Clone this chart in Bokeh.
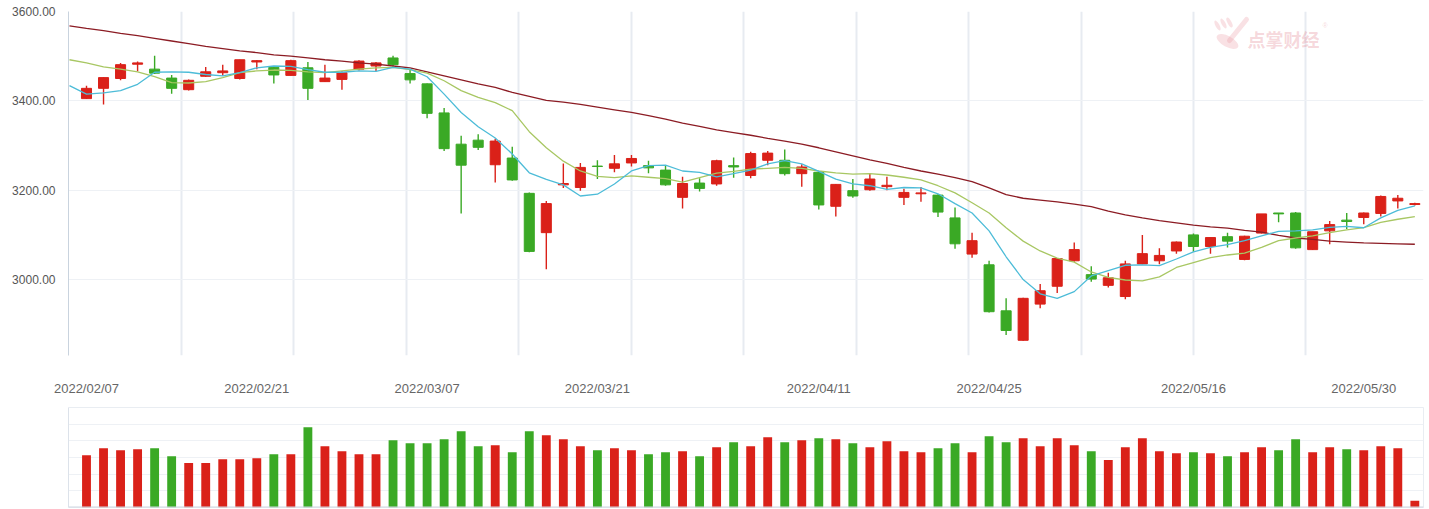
from bokeh.plotting import figure
from bokeh.layouts import column
from bokeh.models import Range1d, FixedTicker, NumeralTickFormatter, Span, ColumnDataSource
from bokeh.embed import file_html
from bokeh.resources import INLINE
from bokeh.core.properties import value

# ---------------- data ----------------
dates = [
    "2022/02/07", "2022/02/08", "2022/02/09", "2022/02/10", "2022/02/11",
    "2022/02/14", "2022/02/15", "2022/02/16", "2022/02/17", "2022/02/18",
    "2022/02/21", "2022/02/22", "2022/02/23", "2022/02/24", "2022/02/25",
    "2022/02/28", "2022/03/01", "2022/03/02", "2022/03/03", "2022/03/04",
    "2022/03/07", "2022/03/08", "2022/03/09", "2022/03/10", "2022/03/11",
    "2022/03/14", "2022/03/15", "2022/03/16", "2022/03/17", "2022/03/18",
    "2022/03/21", "2022/03/22", "2022/03/23", "2022/03/24", "2022/03/25",
    "2022/03/28", "2022/03/29", "2022/03/30", "2022/03/31", "2022/04/01",
    "2022/04/06", "2022/04/07", "2022/04/08", "2022/04/11", "2022/04/12",
    "2022/04/13", "2022/04/14", "2022/04/15", "2022/04/18", "2022/04/19",
    "2022/04/20", "2022/04/21", "2022/04/22", "2022/04/25", "2022/04/26",
    "2022/04/27", "2022/04/28", "2022/04/29", "2022/05/05", "2022/05/06",
    "2022/05/09", "2022/05/10", "2022/05/11", "2022/05/12", "2022/05/13",
    "2022/05/16", "2022/05/17", "2022/05/18", "2022/05/19", "2022/05/20",
    "2022/05/23", "2022/05/24", "2022/05/25", "2022/05/26", "2022/05/27",
    "2022/05/30", "2022/05/31", "2022/06/01", "2022/06/02",
]
open_ = [3405, 3428, 3450, 3482, 3471, 3451, 3425, 3455, 3463, 3450,
         3487, 3475, 3457, 3474, 3443, 3448, 3471, 3478, 3496, 3461,
         3438, 3373, 3303, 3312, 3257, 3272, 3193, 3105, 3212, 3206,
         3254, 3249, 3261, 3255, 3245, 3184, 3216, 3214, 3255, 3233,
         3267, 3267, 3237, 3240, 3164, 3199, 3201, 3208, 3184, 3192,
         3189, 3138, 3057, 3033, 2930, 2864, 2945, 2985, 3042, 3011,
         2987, 2962, 3035, 3042, 3064, 3100, 3074, 3096, 3045, 3104,
         3149, 3149, 3067, 3109, 3133, 3139, 3148, 3176, 3168]
high = [3434, 3453, 3485, 3488, 3501, 3458, 3448, 3476, 3481, 3492,
        3491, 3478, 3492, 3487, 3481, 3466, 3491, 3487, 3501, 3471,
        3439, 3384, 3322, 3325, 3315, 3297, 3195, 3176, 3260, 3261,
        3267, 3279, 3279, 3266, 3256, 3230, 3227, 3268, 3273, 3286,
        3288, 3291, 3258, 3242, 3214, 3225, 3237, 3230, 3203, 3207,
        3191, 3161, 3105, 3042, 2958, 2959, 2990, 3048, 3083, 3030,
        3015, 3042, 3100, 3070, 3085, 3103, 3094, 3105, 3098, 3147,
        3149, 3151, 3107, 3131, 3149, 3150, 3188, 3189, 3172]
low = [3404, 3392, 3446, 3466, 3460, 3416, 3423, 3454, 3456, 3448,
       3471, 3439, 3456, 3402, 3442, 3425, 3468, 3467, 3475, 3439,
       3361, 3288, 3148, 3290, 3217, 3221, 3061, 3023, 3205, 3199,
       3225, 3240, 3253, 3238, 3210, 3159, 3197, 3210, 3228, 3227,
       3256, 3233, 3208, 3157, 3141, 3183, 3199, 3200, 3167, 3174,
       3140, 3069, 3049, 2926, 2876, 2863, 2936, 2970, 3040, 2995,
       2982, 2956, 3034, 3034, 3058, 3062, 3058, 3072, 3043, 3103,
       3128, 3069, 3066, 3079, 3113, 3124, 3141, 3159, 3166]
close = [3428, 3452, 3481, 3485, 3462, 3428, 3446, 3465, 3467, 3492,
         3490, 3458, 3490, 3428, 3451, 3463, 3489, 3485, 3481, 3447,
         3372, 3293, 3256, 3296, 3310, 3223, 3063, 3170, 3215, 3251,
         3253, 3259, 3271, 3250, 3212, 3215, 3204, 3266, 3252, 3282,
         3283, 3237, 3252, 3167, 3213, 3187, 3225, 3211, 3195, 3194,
         3151, 3080, 3087, 2928, 2886, 2958, 2975, 3047, 3067, 3001,
         3004, 3035, 3058, 3054, 3084, 3074, 3094, 3086, 3097, 3147,
         3147, 3071, 3107, 3123, 3130, 3149, 3186, 3182, 3170]
volume = [3141, 3558, 3439, 3498, 3558, 3081, 2664, 2664, 2902, 2902,
          2962, 3200, 3200, 4809, 3677, 3379, 3200, 3200, 4034, 3856,
          3856, 4094, 4571, 3677, 3737, 3319, 4571, 4333, 4094, 3677,
          3439, 3558, 3439, 3200, 3319, 3379, 3081, 3617, 3915, 3677,
          4213, 3915, 4034, 4154, 4094, 3856, 3617, 3975, 3379, 3319,
          3558, 3856, 3319, 4273, 3915, 4154, 3677, 4154, 3737, 3379,
          2843, 3617, 4154, 3379, 3260, 3319, 3260, 3081, 3319, 3617,
          3439, 4094, 3319, 3617, 3498, 3439, 3677, 3558, 399]
# moving averages: first value belongs to the trading day before dates[0]
ma5 = [3434, 3415, 3418, 3423, 3437, 3464, 3465, 3464, 3459, 3456, 3463,
       3474, 3478, 3477, 3470, 3464, 3464, 3467, 3466, 3475, 3471,
       3454, 3415, 3374, 3342, 3317, 3281, 3239, 3224, 3212, 3187,
       3191, 3214, 3243, 3255, 3256, 3243, 3240, 3230, 3237, 3245,
       3259, 3266, 3259, 3242, 3225, 3214, 3210, 3202, 3206, 3205,
       3192, 3170, 3149, 3109, 3051, 3000, 2968, 2958, 2973, 3008,
       3020, 3032, 3033, 3031, 3046, 3062, 3072, 3078, 3087, 3098,
       3108, 3109, 3111, 3117, 3119, 3116, 3138, 3155, 3165]
ma10 = [3492, 3485, 3476, 3471, 3465, 3454, 3441, 3440, 3443, 3452, 3463,
        3467, 3469, 3468, 3465, 3463, 3467, 3471, 3474, 3475, 3470,
        3462, 3445, 3423, 3408, 3396, 3378, 3331, 3295, 3265, 3243,
        3231, 3228, 3232, 3229, 3226, 3218, 3228, 3238, 3242, 3247,
        3249, 3251, 3249, 3243, 3239, 3236, 3237, 3234, 3229, 3223,
        3210, 3194, 3172, 3149, 3116, 3086, 3064, 3048, 3039, 3017,
        3005, 2999, 2997, 3006, 3027, 3038, 3049, 3055, 3059, 3072,
        3087, 3093, 3098, 3105, 3111, 3116, 3128, 3135, 3141]
ma60 = [3568, 3562, 3557, 3551, 3546, 3540, 3534, 3528, 3522, 3517, 3512,
        3508, 3503, 3500, 3496, 3492, 3489, 3485, 3482, 3478, 3474,
        3465, 3456, 3447, 3438, 3430, 3419, 3410, 3401, 3397, 3392,
        3386, 3380, 3374, 3367, 3359, 3350, 3343, 3335, 3329, 3323,
        3316, 3310, 3303, 3295, 3286, 3277, 3268, 3260, 3251, 3243,
        3236, 3228, 3219, 3205, 3190, 3182, 3178, 3174, 3169, 3163,
        3153, 3145, 3138, 3132, 3127, 3122, 3118, 3115, 3110, 3106,
        3099, 3093, 3090, 3086, 3084, 3082, 3081, 3080, 3079]
tick_dates = ["2022/02/07", "2022/02/21", "2022/03/07", "2022/03/21",
              "2022/04/11", "2022/04/25", "2022/05/16", "2022/05/30"]
price_ticks = [3000, 3200, 3400, 3600]

# ---------------- styling / layout ----------------
RED = "#da2119"
GREEN = "#3aa925"
FONT = "Liberation Sans"

LEFT, RIGHT = 68, 6
FRAME_W = 1355
PX_PER_BAR = 17.03
X0 = (68 - 86) / PX_PER_BAR
X1 = X0 + FRAME_W / PX_PER_BAR
Y_MIN, Y_MAX = 2830, 3600
MAIN_FH = 344
Y_PER_PX = (Y_MAX - Y_MIN) / MAIN_FH


def px_x(px):
    return X0 + (px - LEFT) / PX_PER_BAR


def px_y(py):
    return Y_MAX - (py - 11) * Y_PER_PX


grid_px = [181, 293, 406, 518, 631, 743, 856, 968, 1081, 1193, 1305, 1423]

n = len(dates)
idx = list(range(n))
colors = [RED if c >= o else GREEN for o, c in zip(open_, close)]
src = ColumnDataSource(dict(
    x=idx, open=open_, high=high, low=low, close=close, vol=volume,
    top=[max(o, c) for o, c in zip(open_, close)],
    bottom=[min(o, c) for o, c in zip(open_, close)],
    color=colors,
))
ma_x = list(range(-1, n))

p = figure(frame_width=FRAME_W, frame_height=MAIN_FH,
           min_border_left=LEFT, min_border_right=RIGHT,
           min_border_top=11, min_border_bottom=40,
           x_range=Range1d(X0, X1), y_range=Range1d(Y_MIN, Y_MAX),
           output_backend="svg", toolbar_location=None,
           background_fill_color="white", border_fill_color="white")
p.outline_line_color = None

# watermark
wm = "#e8939f"
p.ellipse(x=[px_x(1217), px_x(1223), px_x(1229)], y=[px_y(25), px_y(23), px_y(22)],
          width=4, height=11, width_units="screen", height_units="screen",
          angle=0.5, fill_color=wm, line_color=None, fill_alpha=0.28)
p.ellipse(x=[px_x(1227)], y=[px_y(41)], width=24, height=11,
          width_units="screen", height_units="screen", angle=-0.5,
          fill_color=wm, line_color=None, fill_alpha=0.28)
p.segment(x0=[px_x(1229)], y0=[px_y(40)], x1=[px_x(1246)], y1=[px_y(19)],
          line_color=wm, line_width=5, line_alpha=0.28, line_cap="round")
p.text(x=[px_x(1247)], y=[px_y(38)], text=["点掌财经"],
       text_font=value("Noto Sans CJK SC"), text_font_size="18px",
       text_font_style="bold", text_color="#e07a88", text_alpha=0.3,
       text_baseline="middle", text_align="left")
p.text(x=[px_x(1322)], y=[px_y(25)], text=["®"], text_font=value(FONT),
       text_font_size="7px", text_color="#e07a88", text_alpha=0.3,
       text_baseline="middle")

# candles
p.segment(x0="x", y0="low", x1="x", y1="high", line_color="color",
          line_width=1.4, source=src)
p.vbar(x="x", width=0.59, top="top", bottom="bottom", fill_color="color",
       line_color="color", line_width=1, source=src)

# moving averages
p.line(ma_x, ma60, line_color="#8c1c24", line_width=1.3)
p.line(ma_x, ma10, line_color="#a8c763", line_width=1.3)
p.line(ma_x, ma5, line_color="#4dbcd8", line_width=1.3)

# axes / grid
p.yaxis.ticker = FixedTicker(ticks=price_ticks)
p.yaxis.formatter = NumeralTickFormatter(format="0.00")
p.yaxis.major_tick_out = 0
p.yaxis.major_tick_in = 0
p.yaxis.minor_tick_line_color = None
p.yaxis.axis_line_color = "#c9d3de"
p.yaxis.major_label_standoff = 13
p.yaxis.major_label_text_font = FONT
p.yaxis.major_label_text_font_size = "12px"
p.yaxis.major_label_text_color = "#555555"

tick_idx = [dates.index(d) for d in tick_dates]
p.xaxis.ticker = FixedTicker(ticks=tick_idx)
p.xaxis.major_label_overrides = {i: dates[i] for i in tick_idx}
p.xaxis.axis_line_color = None
p.xaxis.major_tick_line_color = None
p.xaxis.minor_tick_line_color = None
p.xaxis.major_label_standoff = 19
p.xaxis.major_label_text_font = FONT
p.xaxis.major_label_text_font_size = "13px"
p.xaxis.major_label_text_color = "#666666"

p.ygrid.ticker = FixedTicker(ticks=price_ticks)
p.ygrid.grid_line_color = "#eef1f5"
p.ygrid.grid_line_width = 1
p.xgrid.ticker = FixedTicker(ticks=[px_x(g) for g in grid_px])
p.xgrid.grid_line_color = "#e7ebf1"
p.xgrid.grid_line_width = 2

# ---------------- volume panel ----------------
v = figure(frame_width=FRAME_W, frame_height=100,
           min_border_left=LEFT, min_border_right=RIGHT,
           min_border_top=9, min_border_bottom=5,
           x_range=p.x_range, y_range=Range1d(0, 6000),
           output_backend="svg", toolbar_location=None,
           background_fill_color="white", border_fill_color="white")
v.xaxis.visible = False
v.yaxis.visible = False
v.outline_line_color = "#e9edf2"
v.xgrid.grid_line_color = None
v.ygrid.ticker = FixedTicker(ticks=[1000, 2000, 3000, 4000, 5000, 6000])
v.ygrid.grid_line_color = "#eef1f5"
v.vbar(x="x", width=0.52, top="vol", bottom=0, fill_color="color",
       line_color=None, source=src)
v.add_layout(Span(location=0, dimension="width", line_color="#cfd7e1", line_width=2))
v.add_layout(Span(location=X0, dimension="height", line_color="#cfd7e1", line_width=1))

layout = column(p, v, spacing=0)
open("out.html", "w").write(file_html(layout, INLINE))
